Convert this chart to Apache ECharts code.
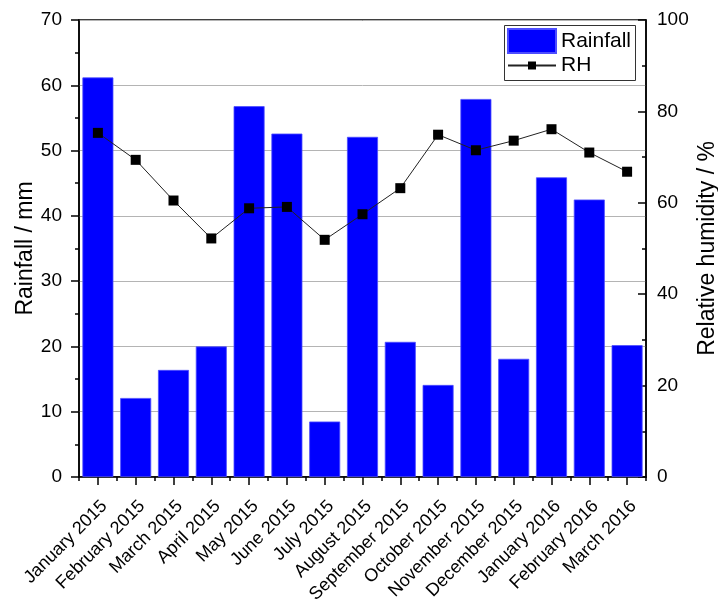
<!DOCTYPE html>
<html>
<head>
<meta charset="utf-8">
<script src="https://cdn.jsdelivr.net/npm/echarts@6/dist/echarts.min.js"></script>
<style>
html,body{margin:0;padding:0;background:#fff;}
#chart{width:718px;height:607px;}
</style>
</head>
<body>
<div id="chart"></div>
<script>
const categories = ["January 2015","February 2015","March 2015","April 2015","May 2015","June 2015","July 2015","August 2015","September 2015","October 2015","November 2015","December 2015","January 2016","February 2016","March 2016"];
const rainfall = [61.2, 12.1, 16.4, 20.0, 56.8, 52.6, 8.5, 52.1, 20.7, 14.1, 57.9, 18.1, 45.9, 42.5, 20.2];
const rh = [75.3, 69.4, 60.5, 52.2, 58.8, 59.1, 51.9, 57.5, 63.2, 74.9, 71.5, 73.6, 76.1, 71.0, 66.8];
const leftTicks = {min: 0, max: 70, interval: 10};
const rightTicks = {min: 0, max: 100, interval: 20};

const FONT = "Liberation Sans, Arial, sans-serif";
const chart = echarts.init(document.getElementById('chart'), null, {renderer: 'canvas'});
chart.setOption({
  animation: false,
  backgroundColor: '#fff',
  textStyle: {fontFamily: FONT, color: '#000'},
  grid: {left: 79, right: 72, top: 20, bottom: 130, containLabel: false, outerBoundsMode: 'none',
         show: true, borderColor: '#000', borderWidth: 1.5, backgroundColor: 'transparent'},
  legend: [
    {data: [{name: 'Rainfall', icon: 'rect'}], left: 507, top: 28, padding: 0, itemWidth: 48, itemHeight: 24, itemGap: 0,
     textStyle: {fontFamily: FONT, fontSize: 21, color: '#000'}},
    {data: ['RH'], left: 507, top: 55, padding: 0, itemWidth: 48, itemHeight: 10, itemGap: 0,
     textStyle: {fontFamily: FONT, fontSize: 21, color: '#000'}}
  ],
  graphic: [{type: 'rect', shape: {x: 504.5, y: 25.5, width: 131, height: 55}, style: {fill: 'none', stroke: '#333', lineWidth: 1}, z: 10}],
  xAxis: [
    {type: 'category', data: categories, position: 'bottom', boundaryGap: true,
     axisLine: {show: true, lineStyle: {color: '#000', width: 1.5}},
     axisTick: {show: true, alignWithLabel: true, length: 8, lineStyle: {color: '#000', width: 1.5}},
     axisLabel: {rotate: 45, fontSize: 18, color: '#000', fontFamily: FONT, margin: 20, interval: 0,
                 align: 'right', verticalAlign: 'top'},
     splitLine: {show: false}},
    {type: 'category', data: categories, position: 'bottom', boundaryGap: true,
     axisLine: {show: false},
     axisTick: {show: true, length: 4, interval: 0, lineStyle: {color: '#000', width: 1.5}},
     axisLabel: {show: false}, splitLine: {show: false}}
  ],
  yAxis: [
    {type: 'value', min: leftTicks.min, max: leftTicks.max, interval: leftTicks.interval, position: 'left',
     name: 'Rainfall / mm', nameLocation: 'middle', nameGap: 42, nameRotate: 90, nameMoveOverlap: false,
     nameTextStyle: {fontSize: 23, color: '#000', fontFamily: FONT},
     axisLine: {show: true, lineStyle: {color: '#000', width: 1.5}},
     axisTick: {show: true, length: 8, lineStyle: {color: '#000', width: 1.5}},
     minorTick: {show: true, splitNumber: 2, length: 4, lineStyle: {color: '#000', width: 1.5}},
     axisLabel: {fontSize: 19, color: '#000', fontFamily: FONT, margin: 17},
     splitLine: {show: true, lineStyle: {color: '#b4b4b4', width: 1}}},
    {type: 'value', min: rightTicks.min, max: rightTicks.max, interval: rightTicks.interval, position: 'right',
     name: 'Relative humidity / %', nameLocation: 'middle', nameGap: 50, nameRotate: 90, nameMoveOverlap: false,
     nameTextStyle: {fontSize: 23, color: '#000', fontFamily: FONT},
     axisLine: {show: true, lineStyle: {color: '#000', width: 1.5}},
     axisTick: {show: true, inside: true, length: 8, lineStyle: {color: '#000', width: 1.5}},
     minorTick: {show: true, splitNumber: 2, length: 4, lineStyle: {color: '#000', width: 1.5}},
     axisLabel: {fontSize: 19, color: '#000', fontFamily: FONT, margin: 11},
     splitLine: {show: false}}
  ],
  series: [
    {name: 'Rainfall', type: 'bar', data: rainfall, xAxisIndex: 0, yAxisIndex: 0, barCategoryGap: '18%',
     itemStyle: {color: '#0000ff', borderColor: '#4d4dff', borderWidth: 0.8}},
    {name: 'RH', type: 'line', data: rh, xAxisIndex: 0, yAxisIndex: 1, symbol: 'rect', symbolSize: 10,
     itemStyle: {color: '#000'}, lineStyle: {color: '#222', width: 1}, z: 5}
  ]
});
</script>
</body>
</html>
